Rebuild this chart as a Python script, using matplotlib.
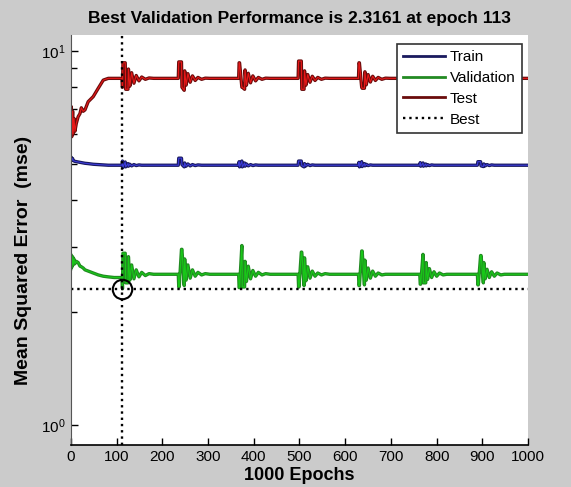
import matplotlib
matplotlib.use("Agg")
import matplotlib.pyplot as plt
import matplotlib.patheffects as pe
from matplotlib.ticker import FixedLocator, FixedFormatter, NullFormatter

plt.rcParams['font.family'] = ['Liberation Sans', 'DejaVu Sans']

# epochs where the curves were sampled (start + 7 disturbance bursts + end)
epochs = ([0, 1, 2, 4, 5, 7, 9, 12, 16, 20, 23, 27, 31, 38, 49, 60, 71, 82, 95]
          + [112, 113, 114, 119, 120, 125, 126, 129, 133, 138, 143, 149, 155, 163, 171, 181]
          + [235, 236, 237, 242, 243, 248, 249, 252, 256, 261, 266, 272, 278, 286, 294, 304]
          + [367, 368, 369, 374, 375, 380, 381, 384, 388, 393, 398, 404, 410, 418, 426, 436]
          + [497, 498, 499, 504, 505, 510, 511, 514, 518, 523, 528, 534, 540, 548, 556, 566]
          + [629, 630, 631, 636, 637, 642, 643, 646, 650, 655, 660, 666, 672, 680, 688, 698]
          + [763, 764, 765, 770, 771, 776, 777, 780, 784, 789, 794, 800, 806, 814, 822, 832]
          + [889, 890, 891, 896, 897, 902, 903, 906, 910, 915, 920, 926, 932, 940, 948, 958]
          + [1000])

train_mse = ([5.12, 5.2, 5.1, 5.16, 5.1, 5.08, 5.07, 5.06, 5.05, 5.04, 5.03, 5.02, 5.01, 5.0, 4.98, 4.97, 4.96, 4.95, 4.95]
             + [4.95, 5.08, 4.88, 5.05, 4.9, 5.0, 4.92, 4.98, 4.93, 4.97, 4.94, 4.96, 4.95, 4.95, 4.95, 4.95]
             + [4.95, 5.17, 5.17, 5.17, 4.97, 4.9, 5.02, 4.92, 4.99, 4.93, 4.97, 4.94, 4.96, 4.95, 4.95, 4.95]
             + [4.95, 5.06, 4.9, 5.08, 4.9, 5.02, 4.92, 4.99, 4.93, 4.97, 4.94, 4.96, 4.95, 4.95, 4.95, 4.95]
             + [4.95, 5.08, 5.08, 5.08, 4.94, 4.9, 5.0, 4.93, 4.98, 4.94, 4.96, 4.95, 4.95, 4.95, 4.95, 4.95]
             + [4.95, 5.04, 4.9, 5.06, 4.91, 5.0, 4.93, 4.98, 4.94, 4.96, 4.95, 4.95, 4.95, 4.95, 4.95, 4.95]
             + [4.95, 5.03, 4.92, 5.02, 4.92, 4.99, 4.93, 4.97, 4.94, 4.96, 4.95, 4.95, 4.95, 4.95, 4.95, 4.95]
             + [4.95, 5.06, 5.06, 5.06, 4.93, 4.91, 4.99, 4.93, 4.97, 4.94, 4.96, 4.95, 4.95, 4.95, 4.95, 4.95]
             + [4.95])

val_mse = ([2.62, 2.85, 2.64, 2.82, 2.68, 2.78, 2.7, 2.74, 2.72, 2.66, 2.65, 2.63, 2.6, 2.58, 2.55, 2.52, 2.5, 2.49, 2.48]
           + [2.48, 2.3161, 2.88, 2.88, 2.40, 2.40, 2.82, 2.44, 2.68, 2.46, 2.60, 2.49, 2.56, 2.51, 2.54, 2.53]
           + [2.53, 2.34, 2.34, 2.95, 2.95, 2.36, 2.78, 2.44, 2.68, 2.47, 2.60, 2.50, 2.56, 2.52, 2.54, 2.53]
           + [2.53, 2.33, 2.33, 3.02, 2.34, 2.34, 2.74, 2.42, 2.66, 2.46, 2.59, 2.50, 2.56, 2.52, 2.54, 2.53]
           + [2.53, 2.34, 2.34, 2.90, 2.90, 2.36, 2.80, 2.43, 2.65, 2.47, 2.58, 2.50, 2.55, 2.52, 2.54, 2.53]
           + [2.53, 2.36, 2.36, 2.92, 2.92, 2.37, 2.76, 2.44, 2.63, 2.47, 2.58, 2.50, 2.55, 2.52, 2.53, 2.53]
           + [2.53, 2.38, 2.38, 2.86, 2.40, 2.40, 2.72, 2.45, 2.62, 2.48, 2.57, 2.50, 2.55, 2.52, 2.53, 2.53]
           + [2.53, 2.37, 2.37, 2.84, 2.84, 2.40, 2.72, 2.46, 2.61, 2.48, 2.57, 2.50, 2.55, 2.52, 2.53, 2.53]
           + [2.53])

test_mse = ([6.5, 7.1, 5.9, 6.9, 6.0, 6.6, 6.1, 6.4, 6.67, 6.8, 7.05, 6.9, 6.96, 7.32, 7.55, 7.95, 8.36, 8.45, 8.45]
            + [8.45, 8.0, 9.3, 9.3, 7.9, 7.9, 8.95, 8.05, 8.75, 8.2, 8.6, 8.32, 8.52, 8.4, 8.47, 8.45]
            + [8.45, 9.35, 9.35, 9.35, 8.0, 7.85, 8.85, 8.1, 8.7, 8.25, 8.58, 8.34, 8.5, 8.4, 8.46, 8.45]
            + [8.45, 9.3, 9.3, 8.0, 8.0, 7.9, 8.9, 8.1, 8.72, 8.22, 8.58, 8.32, 8.5, 8.4, 8.46, 8.45]
            + [8.45, 9.4, 9.4, 9.4, 7.9, 7.9, 8.85, 8.1, 8.65, 8.25, 8.56, 8.34, 8.5, 8.4, 8.46, 8.45]
            + [8.45, 9.3, 9.3, 8.0, 7.95, 7.95, 8.8, 8.12, 8.65, 8.26, 8.56, 8.34, 8.5, 8.4, 8.46, 8.45]
            + [8.45, 9.2, 9.2, 8.05, 8.05, 8.0, 8.75, 8.15, 8.62, 8.28, 8.54, 8.36, 8.49, 8.41, 8.46, 8.45]
            + [8.45, 9.25, 9.25, 8.0, 8.0, 7.95, 8.78, 8.15, 8.62, 8.28, 8.54, 8.36, 8.49, 8.41, 8.46, 8.45]
            + [8.45])

best_epoch = 113
best_perf = 2.3161
x_ticks = [0, 100, 200, 300, 400, 500, 600, 700, 800, 900, 1000]

fig = plt.figure(figsize=(5.71, 4.87), dpi=100, facecolor='#cbcbcb')
ax = fig.add_axes([0.124, 0.086, 0.801, 0.842])
ax.set_facecolor('white')

# dark edge + brighter core, like the blurry screenshot lines
def edge(dark):
    return [pe.Stroke(linewidth=2.4, foreground=dark), pe.Normal()]

ax.plot(epochs, train_mse, color='#3a3ad8', lw=0.8, label='Train', path_effects=edge('#1a1a5e'))
ax.plot(epochs, val_mse, color='#18c818', lw=0.8, label='Validation', path_effects=edge('#228a22'))
ax.plot(epochs, test_mse, color='#e81818', lw=0.8, label='Test', path_effects=edge('#6a0c0c'))

# best epoch markers
ax.axvline(best_epoch, color='black', ls=':', lw=1.7, label='Best')
ax.axhline(best_perf, color='black', ls=':', lw=1.7)
ax.plot([best_epoch], [best_perf], 'o', mfc='none', mec='black', ms=14, mew=1.5)

ax.set_yscale('log')
ax.set_xlim(0, 1000)
ax.set_ylim(0.884, 11.03)
ax.set_xticks(x_ticks)
ax.set_xticklabels([str(t) for t in x_ticks])
ax.yaxis.set_major_locator(FixedLocator([1, 10]))
ax.yaxis.set_major_formatter(FixedFormatter([r'$\mathregular{10^0}$', r'$\mathregular{10^1}$']))
ax.yaxis.set_minor_locator(FixedLocator([2, 3, 4, 5, 6, 7, 8, 9]))
ax.yaxis.set_minor_formatter(NullFormatter())
ax.tick_params(axis='both', direction='in', length=5, width=1, labelsize=11)
ax.tick_params(axis='y', which='minor', direction='in', length=4, width=1)
ax.spines['top'].set_visible(False)
ax.spines['right'].set_visible(False)
ax.spines['left'].set_color('#555555')
ax.spines['bottom'].set_linewidth(1.2)

ax.set_title('Best Validation Performance is 2.3161 at epoch 113',
             fontsize=12.5, fontweight='bold', pad=9)
ax.set_xlabel('1000 Epochs', fontsize=13, fontweight='bold', labelpad=2)
ax.set_ylabel('Mean Squared Error  (mse)', fontsize=14, fontweight='bold')
ax.yaxis.set_label_coords(-0.085, 0.45)

leg = ax.legend(loc='upper right', bbox_to_anchor=(1.003, 0.997), fontsize=11,
                frameon=True, fancybox=False, framealpha=1, edgecolor='#333333',
                handlelength=2.8, borderpad=0.4, labelspacing=0.45, handletextpad=0.3)
leg.get_frame().set_linewidth(1.2)
for h, c in zip(leg.get_lines()[:3], ['#1a1a5e', '#228a22', '#6a0c0c']):
    h.set_path_effects([])
    h.set_color(c)
    h.set_linewidth(2)

fig.savefig('out.png', dpi=100, facecolor=fig.get_facecolor())
